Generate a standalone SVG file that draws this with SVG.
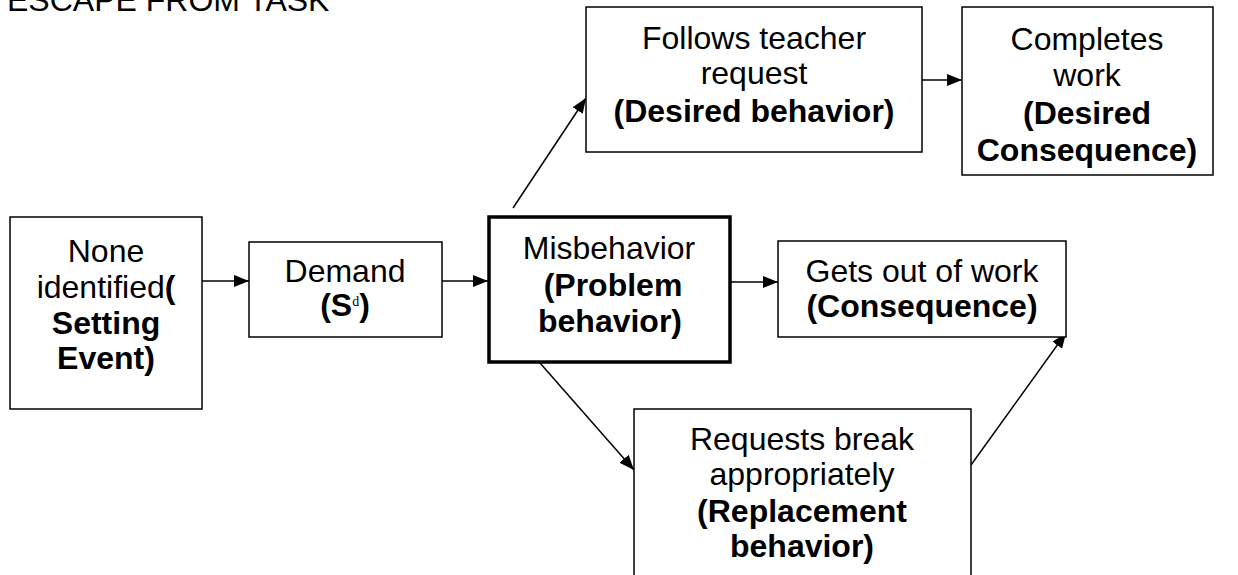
<svg xmlns="http://www.w3.org/2000/svg" width="1238" height="575" viewBox="0 0 1238 575">
<style>
.box{fill:#fff;stroke:#000;stroke-width:1.5}
.thick{stroke-width:3.5}
text{font-family:"Liberation Sans",Arial,sans-serif;font-size:32px;fill:#000;text-anchor:middle}
.b{font-weight:bold}
.c{stroke:#000;stroke-width:1.5;fill:none}
</style>
<defs>
<marker id="ah" markerUnits="userSpaceOnUse" markerWidth="16" markerHeight="12" refX="15" refY="6" orient="auto">
<path d="M0,0 L15,6 L0,12 Z" fill="#000"/>
</marker>
</defs>
<rect width="1238" height="575" fill="#fff"/>
<text x="7" y="11" style="text-anchor:start">ESCAPE FROM TASK</text>
<g id="connectors">
<line class="c" x1="202" y1="281" x2="249" y2="281" marker-end="url(#ah)"/>
<line class="c" x1="442" y1="281" x2="488" y2="281" marker-end="url(#ah)"/>
<line class="c" x1="731" y1="282" x2="778" y2="282" marker-end="url(#ah)"/>
<line class="c" x1="922" y1="80" x2="962" y2="80" marker-end="url(#ah)"/>
<line class="c" x1="513" y1="208" x2="586" y2="98" marker-end="url(#ah)"/>
<line class="c" x1="540" y1="363" x2="634" y2="470" marker-end="url(#ah)"/>
<line class="c" x1="971" y1="465" x2="1066" y2="333" marker-end="url(#ah)"/>
</g>
<g id="setting-event">
<rect class="box" x="10" y="217" width="192" height="192"/>
<text x="106" y="262">None</text>
<text x="106" y="298">identified<tspan class="b">(</tspan></text>
<text x="106" y="334" class="b">Setting</text>
<text x="106" y="369" class="b">Event)</text>
</g>
<g id="demand">
<rect class="box" x="249" y="242" width="193" height="95"/>
<text x="345" y="282">Demand</text>
<text x="345" y="316"><tspan class="b">(S</tspan><tspan style="font-family:'Liberation Serif',serif;font-size:14px" dy="-10">d</tspan><tspan class="b" dy="10">)</tspan></text>
</g>
<g id="problem-behavior">
<rect class="box thick" x="489" y="217" width="241" height="145"/>
<text x="609" y="259">Misbehavior</text>
<text x="613" y="296" class="b">(Problem</text>
<text x="610" y="332" class="b">behavior)</text>
</g>
<g id="desired-behavior">
<rect class="box" x="586" y="7" width="336" height="145"/>
<text x="754" y="49">Follows teacher</text>
<text x="754" y="84">request</text>
<text x="754" y="122" class="b">(Desired behavior)</text>
</g>
<g id="desired-consequence">
<rect class="box" x="962" y="7" width="251" height="168"/>
<text x="1087" y="50">Completes</text>
<text x="1087" y="86">work</text>
<text x="1087" y="124" class="b">(Desired</text>
<text x="1087" y="161" class="b">Consequence)</text>
</g>
<g id="consequence">
<rect class="box" x="778" y="241" width="288" height="96"/>
<text x="922" y="282">Gets out of work</text>
<text x="922" y="317" class="b">(Consequence)</text>
</g>
<g id="replacement-behavior">
<rect class="box" x="634" y="409" width="337" height="180"/>
<text x="802" y="450">Requests break</text>
<text x="802" y="485">appropriately</text>
<text x="802" y="522" class="b">(Replacement</text>
<text x="802" y="557" class="b">behavior)</text>
</g>
</svg>
